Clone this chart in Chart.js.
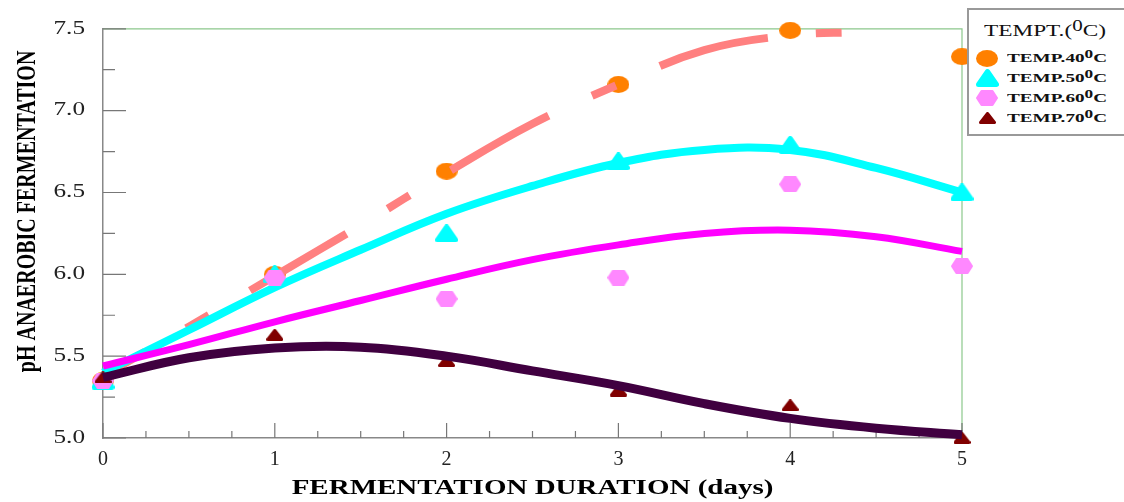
<!DOCTYPE html>
<html lang="en">
<head>
    <meta charset="UTF-8">
    <title>pH Anaerobic Fermentation</title>
    <script src="https://cdn.jsdelivr.net/npm/chart.js"></script>
    <style>
        body {
            margin: 0;
            background: #fff;
            font-family: 'Liberation Serif', serif;
        }
        .wrap {
            position: relative;
            width: 1124px;
            height: 502px;
        }
        #legend {
            position: absolute;
            left: 967px;
            top: 8px;
            width: 160px;
            height: 128px;
            border: 2px solid #999;
            background: #fff;
            box-sizing: border-box;
            color: #111;
        }
        #legend .title {
            position: absolute;
            left: 15px;
            top: 11px;
            font-size: 17.5px;
            line-height: 18px;
            transform: scaleX(1.33);
            transform-origin: left center;
            white-space: nowrap;
        }
        #legend .item {
            position: absolute;
            left: 6px;
            height: 18px;
            display: flex;
            align-items: center;
            font-weight: bold;
            font-size: 13.5px;
            white-space: nowrap;
        }
        #legend .item span {
            display: inline-block;
            transform: scaleX(1.42);
            transform-origin: left center;
        }
        sup {
            font-size: 0.9em;
            line-height: 0;
            vertical-align: 0.35em;
        }
    </style>
</head>
<body>
    <div class="wrap">
        <canvas id="chart" width="1124" height="502"></canvas>
        <div id="legend">
            <div class="title">TEMPT.(<sup>0</sup>C)</div>
        </div>
    </div>

    <script>
        // measured points
        const days = [0, 1, 2, 3, 4, 5];
        const ph40 = [5.35, 6.00, 6.63, 7.16, 7.49, 7.33];
        const ph50 = [5.35, 6.00, 6.25, 6.69, 6.79, 6.50];
        const ph60 = [5.35, 5.98, 5.85, 5.98, 6.55, 6.05];
        const ph70 = [5.37, 5.63, 5.47, 5.29, 5.20, 5.00];

        // fitted curves
        const fitDays40 = [0, 0.5, 1, 1.5, 2, 2.5, 3, 3.5, 4, 4.4];
        const fit40 = [5.38, 5.68, 5.99, 6.30, 6.62, 6.92, 7.16, 7.37, 7.46, 7.48];
        const fitDays = [0, 0.5, 1, 1.5, 2, 2.5, 3, 3.5, 4, 4.5, 5];
        const fit50 = [5.40, 5.66, 5.92, 6.15, 6.37, 6.54, 6.68, 6.76, 6.76, 6.65, 6.50];
        const fit60 = [5.44, 5.57, 5.71, 5.84, 5.97, 6.09, 6.18, 6.25, 6.27, 6.23, 6.14];
        const fit70 = [5.37, 5.49, 5.55, 5.555, 5.50, 5.41, 5.32, 5.21, 5.12, 5.06, 5.02];

        const legendLabels = ["TEMP.40", "TEMP.50", "TEMP.60", "TEMP.70"];

        const toXY = (xs, ys) => xs.map((x, i) => ({ x: x, y: ys[i] }));

        // marker images
        function marker(kind, color, w, h) {
            const c = document.createElement("canvas");
            c.width = w; c.height = h;
            const g = c.getContext("2d");
            g.fillStyle = color;
            g.strokeStyle = color;
            g.lineJoin = "round";
            g.beginPath();
            if (kind === "ellipse") {
                g.ellipse(w / 2, h / 2, w / 2, h / 2, 0, 0, Math.PI * 2);
                g.fill();
            } else if (kind === "hex") {
                g.lineWidth = 2;
                g.moveTo(w * 0.25, 1); g.lineTo(w * 0.75, 1); g.lineTo(w - 1, h / 2);
                g.lineTo(w * 0.75, h - 1); g.lineTo(w * 0.25, h - 1); g.lineTo(1, h / 2);
                g.closePath(); g.fill(); g.stroke();
            } else {
                const r = kind === "tri" ? 2.5 : 1.5;
                g.lineWidth = r * 2;
                g.moveTo(w / 2, r); g.lineTo(w - r, h - r); g.lineTo(r, h - r);
                g.closePath(); g.fill(); g.stroke();
            }
            return c;
        }
        const markerSpecs = [
            ["ellipse", "#ff8000", 22, 17],
            ["tri", "#00ffff", 23, 18],
            ["hex", "#ff88ff", 22, 16],
            ["smalltri", "#800000", 17, 12]
        ];

        // legend
        const legendEl = document.getElementById("legend");
        legendLabels.forEach((lab, i) => {
            const row = document.createElement("div");
            row.className = "item";
            row.style.top = (39 + i * 20) + "px";
            const s = markerSpecs[i];
            const m = marker(s[0], s[1], s[2], s[3]);
            m.style.width = s[2] + "px";
            m.style.marginLeft = ((24 - s[2]) / 2) + "px";
            m.style.marginRight = ((24 - s[2]) / 2 + 8) + "px";
            row.appendChild(m);
            const t = document.createElement("span");
            t.innerHTML = lab + "<sup>0</sup>C";
            row.appendChild(t);
            legendEl.appendChild(row);
        });

        // the reference text is stretched sideways; widen glyphs about an anchor
        function stretch(scale, method, sx, originX, dy) {
            const orig = scale[method].bind(scale);
            scale[method] = function (...args) {
                const ctx = this.ctx;
                const ox = originX(this);
                ctx.save();
                ctx.translate(ox, dy);
                ctx.scale(sx, 1);
                ctx.translate(-ox, 0);
                orig(...args);
                ctx.restore();
            };
        }

        const frame = {
            id: "frame",
            afterLayout(chart) {
                const { x, y } = chart.scales;
                if (x._stretched) return;
                x._stretched = y._stretched = true;
                stretch(x, "drawTitle", 1.45, s => (s.left + s.right) / 2, 0);
                stretch(y, "drawTitle", 1.4, s => 28, -22);
                stretch(y, "drawLabels", 1.4, s => s.right - 18, 0);
            },
            // inward tick marks and top/right frame
            beforeDatasetsDraw(chart) {
                const { ctx, chartArea: a, scales: { x, y } } = chart;
                ctx.save();
                ctx.strokeStyle = "#8cc88c";
                ctx.lineWidth = 1.2;
                ctx.beginPath();
                ctx.moveTo(a.left, a.top); ctx.lineTo(a.right, a.top); ctx.lineTo(a.right, a.bottom);
                ctx.stroke();
                ctx.strokeStyle = "#777";
                ctx.lineWidth = 1.2;
                ctx.beginPath();
                y.ticks.forEach(t => {
                    const py = y.getPixelForValue(t.value);
                    const major = Math.abs(t.value * 2 - Math.round(t.value * 2)) < 1e-6;
                    ctx.moveTo(a.left, py); ctx.lineTo(a.left + (major ? 23 : 12), py);
                });
                x.ticks.forEach(t => {
                    const px = x.getPixelForValue(t.value);
                    const major = Math.abs(t.value - Math.round(t.value)) < 1e-6;
                    ctx.moveTo(px, a.bottom); ctx.lineTo(px, a.bottom - (major ? 15 : 7));
                });
                ctx.stroke();
                ctx.restore();
            }
        };

        const serif = "'Liberation Serif', 'Times New Roman', serif";

        new Chart(document.getElementById("chart"), {
            type: "scatter",
            data: {
                datasets: [
                    {
                        label: "fit 70", data: toXY(fitDays, fit70), showLine: true,
                        borderColor: "#400040", borderWidth: 9, pointRadius: 0,
                        tension: 0.4, order: 1, clip: false
                    },
                    {
                        label: "TEMP.70", data: toXY(days, ph70),
                        pointStyle: marker(...markerSpecs[3]), order: 2, clip: false
                    },
                    {
                        label: "fit 60", data: toXY(fitDays, fit60), showLine: true,
                        borderColor: "#ff00ff", borderWidth: 7, pointRadius: 0,
                        tension: 0.4, order: 3, clip: false
                    },
                    {
                        label: "TEMP.60", data: toXY(days, ph60),
                        pointStyle: marker(...markerSpecs[2]), order: 4, clip: false
                    },
                    {
                        label: "fit 50", data: toXY(fitDays, fit50), showLine: true,
                        borderColor: "#00ffff", borderWidth: 8, pointRadius: 0,
                        tension: 0.4, order: 5, clip: false
                    },
                    {
                        label: "TEMP.50", data: toXY(days, ph50),
                        pointStyle: marker(...markerSpecs[1]), order: 6, clip: false
                    },
                    {
                        label: "fit 40", data: toXY(fitDays40, fit40), showLine: true,
                        borderColor: "#ff8080", borderWidth: 8, pointRadius: 0,
                        borderDash: [112, 48, 26, 48], borderDashOffset: 64,
                        tension: 0.4, order: 7, clip: false
                    },
                    {
                        label: "TEMP.40", data: toXY(days, ph40),
                        pointStyle: marker(...markerSpecs[0]), order: 8, clip: false
                    }
                ]
            },
            options: {
                responsive: false,
                animation: false,
                layout: { padding: { left: 0, right: 162, top: 27, bottom: 0 } },
                plugins: {
                    legend: { display: false },
                    tooltip: { enabled: false }
                },
                scales: {
                    x: {
                        type: "linear", min: 0, max: 5,
                        afterFit(s) { s.height = 64; },
                        grid: { display: false, drawTicks: false },
                        border: { display: true, color: "#888", width: 1.5 },
                        ticks: {
                            stepSize: 0.25, autoSkip: false, maxRotation: 0, padding: 10,
                            color: "#222", font: { family: serif, size: 20 },
                            callback: v => Math.abs(v - Math.round(v)) < 1e-6 ? String(Math.round(v)) : ""
                        },
                        title: {
                            display: true, text: "FERMENTATION DURATION (days)", color: "#000",
                            font: { family: serif, size: 20, weight: "bold" },
                            padding: { top: 0, bottom: 1 }
                        }
                    },
                    y: {
                        min: 5, max: 7.5,
                        afterFit(s) { s.width = 103; },
                        grid: { display: false, drawTicks: false },
                        border: { display: true, color: "#888", width: 1.5 },
                        ticks: {
                            stepSize: 0.25, autoSkip: false, padding: 18,
                            color: "#222", font: { family: serif, size: 18 },
                            callback: v => Math.abs(v * 2 - Math.round(v * 2)) < 1e-6 ? v.toFixed(1) : ""
                        },
                        title: {
                            display: true, text: "pH ANAEROBIC FERMENTATION", color: "#000",
                            font: { family: serif, size: 20, weight: "bold" },
                            padding: { top: 16, bottom: 0 }
                        }
                    }
                }
            },
            plugins: [frame]
        });
    </script>
</body>
</html>
